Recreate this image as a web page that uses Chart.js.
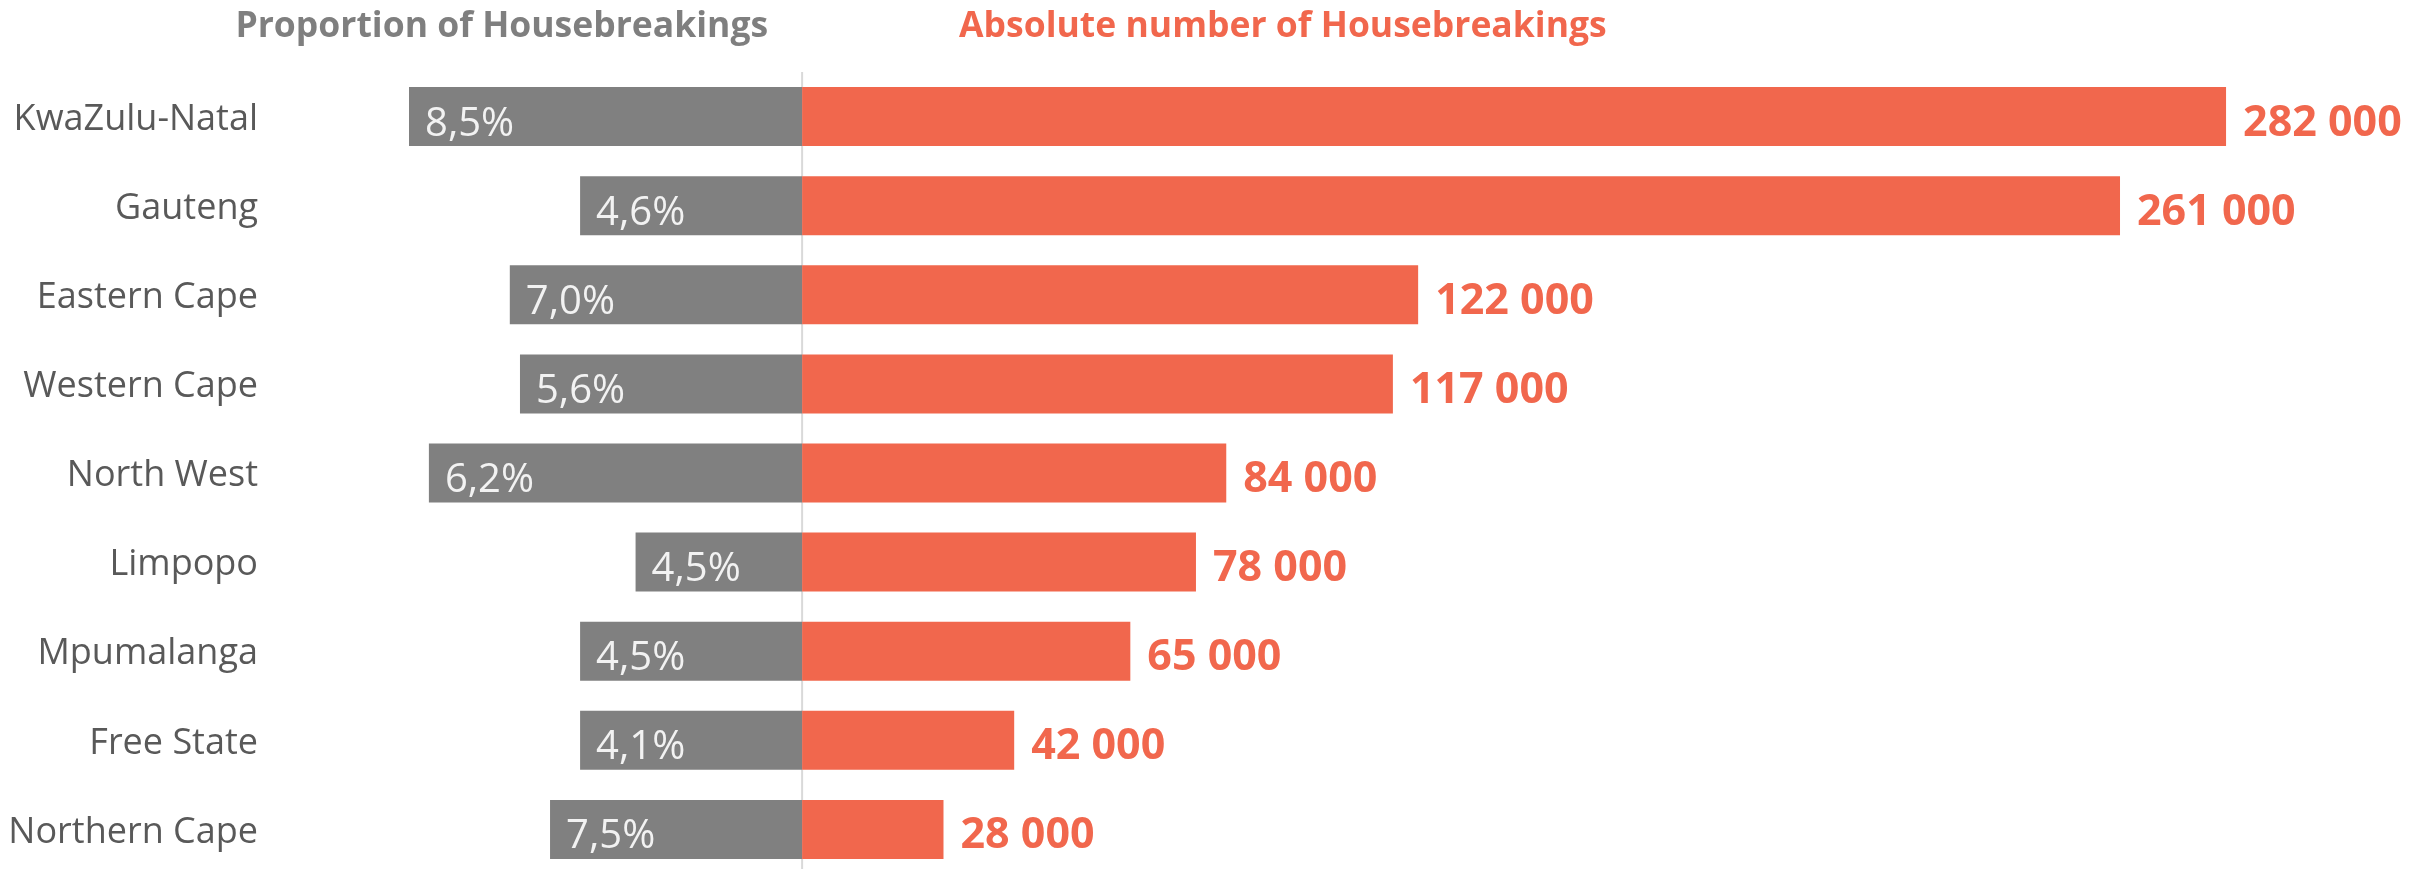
<!DOCTYPE html>
<html>
<head>
<meta charset="utf-8">
<script src="https://cdn.jsdelivr.net/npm/chart.js@4/dist/chart.umd.min.js"></script>
<style>
    html, body { margin: 0; background: #ffffff; overflow: hidden; }
    #wrap { position: relative; width: 2425px; height: 874px; }
</style>
</head>
<body>
<div id="wrap"><canvas id="chart"></canvas></div>
<script>
const provinces = [
    "KwaZulu-Natal", "Gauteng", "Eastern Cape", "Western Cape", "North West",
    "Limpopo", "Mpumalanga", "Free State", "Northern Cape"
];

// proportion of housebreakings (%), as printed on the grey bars
const proportion = [8.5, 4.6, 7.0, 5.6, 6.2, 4.5, 4.5, 4.1, 7.5];

// length of the grey bars as drawn in the source (not to the label scale), in %
const proportionBar = [8.5, 4.8, 6.32, 6.1, 8.07, 3.6, 4.8, 4.8, 5.45];

// absolute number of housebreakings, thousands
const housebreakings = [282, 261, 122, 117, 84, 78, 65, 42, 28];

const leftTitle = "Proportion of Housebreakings";
const rightTitle = "Absolute number of Housebreakings";

const grey = "#808080";
const red = "#F1674D";
const font = "'Open Sans', 'Segoe UI', sans-serif";

const pctText = v => v.toFixed(1).replace(".", ",") + "%";
const numText = v => (v + " 000");

const labelPlugin = {
    id: "labels",
    beforeDatasetsDraw(chart)
    {
        const ctx = chart.ctx;
        const x0 = chart.scales.xR.getPixelForValue(0);
        const area = chart.chartArea;

        ctx.save();
        ctx.strokeStyle = "#d9d9d9";
        ctx.lineWidth = 2;
        ctx.beginPath();
        ctx.moveTo(x0, area.top);
        ctx.lineTo(x0, chart.height);
        ctx.stroke();
        ctx.restore();
    },
    afterDatasetsDraw(chart)
    {
        const ctx = chart.ctx;
        const x0 = chart.scales.xR.getPixelForValue(0);

        ctx.save();
        ctx.textBaseline = "alphabetic";
        ctx.textAlign = "left";

        // grey bar labels
        ctx.font = "40px " + font;
        ctx.fillStyle = "#f2f2f2";
        chart.getDatasetMeta(0).data.forEach((bar, i) => {
            ctx.fillText(pctText(proportion[i]), bar.x + 16, bar.y + 19);
        });

        // red bar labels
        ctx.font = "bold 43px " + font;
        ctx.fillStyle = red;
        chart.getDatasetMeta(1).data.forEach((bar, i) => {
            ctx.fillText(numText(housebreakings[i]), bar.x + 17, bar.y + 19);
        });

        // column titles
        ctx.font = "bold 35.5px " + font;
        ctx.fillStyle = "#7f7f7f";
        ctx.textAlign = "right";
        ctx.fillText(leftTitle, x0 - 34, 37);

        ctx.fillStyle = red;
        ctx.textAlign = "left";
        ctx.fillText(rightTitle, x0 + 157, 37);
        ctx.restore();
    }
};

new Chart(document.getElementById("chart"),
{
    type: "bar",
    data:
    {
        labels: provinces,
        datasets:
        [
            {
                label: leftTitle,
                data: proportionBar.map(v => -v),
                xAxisID: "xL",
                backgroundColor: grey,
                borderWidth: 0,
                grouped: false,
                barPercentage: 0.662,
                categoryPercentage: 1
            },
            {
                label: rightTitle,
                data: housebreakings,
                xAxisID: "xR",
                backgroundColor: red,
                borderWidth: 0,
                grouped: false,
                barPercentage: 0.662,
                categoryPercentage: 1
            }
        ]
    },
    options:
    {
        indexAxis: "y",
        responsive: true,
        maintainAspectRatio: false,
        animation: false,
        layout: { padding: { top: 72, right: 0, bottom: 0, left: 0 } },
        plugins:
        {
            legend: { display: false },
            tooltip: { enabled: false },
            title: { display: false }
        },
        scales:
        {
            xL:
            {
                type: "linear",
                position: "bottom",
                display: false,
                min: -11.29,
                max: 35.10
            },
            xR:
            {
                type: "linear",
                position: "bottom",
                display: false,
                min: -103.4,
                max: 321.4
            },
            y:
            {
                grid: { display: false, drawTicks: false },
                border: { display: false },
                ticks:
                {
                    color: "#595959",
                    padding: 22,
                    labelOffset: 3,
                    font: { family: font, size: 36 }
                },
                afterFit: s => {
                    s.width = 280;
                    s.paddingTop = 0;
                    s.paddingBottom = 0;
                }
            }
        }
    },
    plugins: [labelPlugin]
});
</script>
</body>
</html>
